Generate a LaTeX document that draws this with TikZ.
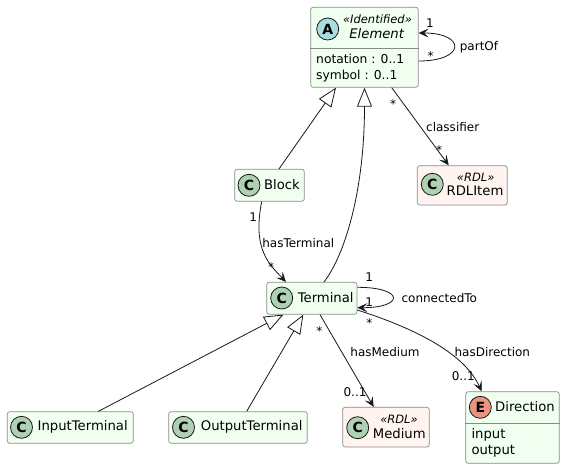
\documentclass[tikz,border=0pt]{standalone}
\usepackage{fontspec}
\setmainfont{DejaVu Sans}
\usetikzlibrary{arrows.meta}
\definecolor{clsfill}{HTML}{F1FFF1}
\definecolor{rdlfill}{HTML}{FFF4F0}
\definecolor{bordercol}{HTML}{8A8A8A}
\definecolor{linecol}{HTML}{181818}
\definecolor{circA}{HTML}{A9DCDF}
\definecolor{circC}{HTML}{ADD1B2}
\definecolor{circE}{HTML}{EB937F}
\begin{document}
\begin{tikzpicture}[x=1pt,y=-1pt,
 box/.style={draw=bordercol, line width=0.7pt, rounded corners=2.5pt, inner sep=0, fill=clsfill},
 rdlbox/.style={box, fill=rdlfill},
 sepline/.style={draw=bordercol, line width=0.7pt},
 badge/.style={circle, draw=linecol, line width=0.8pt, minimum size=22pt, inner sep=0, font=\fontsize{14}{14}\selectfont\bfseries},
 cname/.style={inner sep=0, font=\fontsize{13.2}{15}\selectfont},
 stereo/.style={inner sep=0, font=\fontsize{11.5}{13}\selectfont\itshape},
 attr/.style={inner sep=0, anchor=west, font=\fontsize{12.3}{14}\selectfont},
 lbl/.style={inner sep=0, font=\fontsize{12}{14}\selectfont},
 assoc/.style={draw=linecol, line width=0.8pt, -{Stealth[length=10pt,width=9pt,inset=4.5pt]}},
 gen/.style={draw=linecol, line width=0.8pt, -{Triangle[open,length=19pt,width=15pt]}},
]
\fill[white] (0,0) rectangle (565,469);
\useasboundingbox (0,0) rectangle (565,469);

% Element
\node[box, minimum width=107.6pt, minimum height=80pt] (element) at (364.5,47.3) {};
\draw[sepline] ([yshift=-1pt]element.west) -- ([yshift=-1pt]element.east);
\node[badge, fill=circA] (elementA) at (327.7,29) {A};
\node[stereo] (elementst) at (377.5,19.3) {«Identified»};
\node[cname, font=\fontsize{13.2}{15}\selectfont\itshape] (elementname) at (376.7,34) {Element};
\node[attr] (elementat1) at (316,59.3) {notation : 0..1};
\node[attr] (elementat2) at (316,76) {symbol : 0..1};

% Block
\node[box, minimum width=69.6pt, minimum height=32pt] (block) at (269.5,185.3) {};
\node[badge, fill=circC] (blockC) at (249,185.3) {C};
\node[cname] (blockname) at (282,185) {Block};

% RDLItem
\node[rdlbox, minimum width=90pt, minimum height=39.3pt] (rdlitem) at (462.3,185.3) {};
\node[badge, fill=circC] (rdlitemC) at (432.3,184.3) {C};
\node[stereo] (rdlitemst) at (475.7,177) {«RDL»};
\node[cname] (rdlitemname) at (475,191) {RDLItem};

% Terminal
\node[box, minimum width=90.3pt, minimum height=32pt] (terminal) at (311.85,298.3) {};
\node[badge, fill=circC] (terminalC) at (281.7,298) {C};
\node[cname] (terminalname) at (325.7,298) {Terminal};

% InputTerminal
\node[box, minimum width=126pt, minimum height=31.6pt] (input) at (70.3,427.5) {};
\node[badge, fill=circC] (inputC) at (21.5,427.3) {C};
\node[cname] (inputname) at (82.7,427) {InputTerminal};

% OutputTerminal
\node[box, minimum width=138.6pt, minimum height=31.6pt] (output) at (238,427.5) {};
\node[badge, fill=circC] (outputC) at (183.5,427.3) {C};
\node[cname] (outputname) at (251.7,427) {OutputTerminal};

% Medium
\node[rdlbox, minimum width=86.6pt, minimum height=39.7pt] (medium) at (386,427.15) {};
\node[badge, fill=circC] (mediumC) at (357.7,427.7) {C};
\node[stereo] (mediumst) at (399,419) {«RDL»};
\node[cname] (mediumname) at (399.3,433.7) {Medium};

% Direction
\node[box, minimum width=93.6pt, minimum height=71.6pt] (direction) at (512.5,427.5) {};
\draw[sepline] ([yshift=4.2pt]direction.west) -- ([yshift=4.2pt]direction.east);
\node[badge, fill=circE] (directionE) at (480.3,407.3) {E};
\node[cname] (directionname) at (525,407) {Direction};
\node[attr, font=\fontsize{13.2}{15}\selectfont] (dirat1) at (471.3,435) {input};
\node[attr, font=\fontsize{13.2}{15}\selectfont] (dirat2) at (471.3,451) {output};

% partOf
\draw[assoc] ([yshift=-13.7pt]element.east) .. controls (466,61) and (466,33) .. ([yshift=14.3pt]element.east);
\node[lbl] (partof1) at (430,22.7) {1};
\node[lbl] (partofs) at (430.7,56) {*};
\node[lbl] (partof) at (479,47) {partOf};

% classifier
\draw[assoc] ([xshift=27.2pt]element.south) -- ([xshift=-13.6pt]rdlitem.north);
\node[lbl] (classs1) at (393,104) {*};
\node[lbl] (classifier) at (452.7,126.7) {classifier};
\node[lbl] (classs2) at (439,150) {*};

% generalizations
\draw[gen] ([xshift=9.5pt]block.north) -- ([xshift=-28.5pt]element.south);
\draw[gen] ([xshift=12.15pt]terminal.north) .. controls (345,255) and (364.5,190) .. (element.south);
\draw[gen] ([xshift=28pt]input.north) -- ([xshift=-28.55pt]terminal.south);
\draw[gen] ([xshift=8.7pt]output.north) -- ([xshift=-8.55pt]terminal.south);

% hasTerminal
\draw[assoc] ([xshift=-7.8pt]block.south) .. controls (252,250) and (270,265) .. ([xshift=-25.85pt]terminal.north);
\node[lbl] (ht1) at (253.3,216.7) {1};
\node[lbl] (hasterminal) at (298.3,243.3) {hasTerminal};
\node[lbl] (hts) at (271,267.5) {*};

% connectedTo
\draw[assoc] ([yshift=11pt]terminal.east) .. controls (404.6,287.3) and (404.6,307.7) .. ([yshift=-9.4pt]terminal.east);
\node[lbl] (ct1) at (369.3,277.3) {1};
\node[lbl] (ct2) at (369.3,301.7) {1};
\node[lbl] (connectedto) at (439.3,298) {connectedTo};

% hasMedium
\draw[assoc] ([xshift=8.15pt]terminal.south) -- ([xshift=-12.3pt]medium.north);
\node[lbl] (hms) at (319.3,331) {*};
\node[lbl] (hasmedium) at (385,352.3) {hasMedium};
\node[lbl] (hm01) at (355,391.7) {0..1};

% hasDirection
\draw[assoc] ([yshift=-11.7pt]terminal.east) .. controls (420,330) and (465,355) .. ([xshift=-30.8pt]direction.north);
\node[lbl] (hds) at (369.3,323.5) {*};
\node[lbl] (hasdirection) at (492.3,352.3) {hasDirection};
\node[lbl] (hd01) at (463.3,376) {0..1};
\end{tikzpicture}
\end{document}
